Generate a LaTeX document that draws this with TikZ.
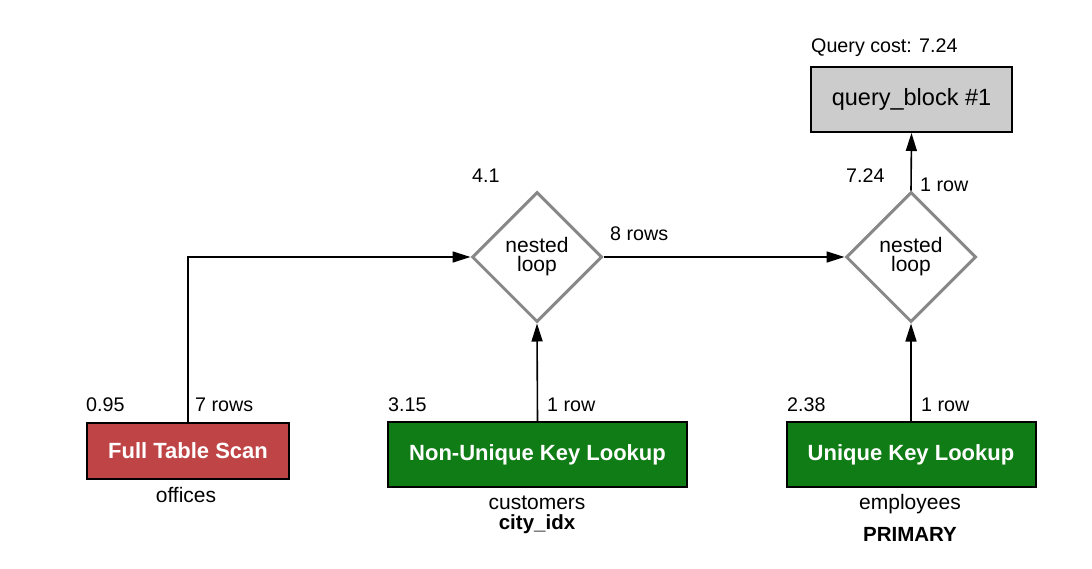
\documentclass[tikz,border=0pt]{standalone}
\usepackage{fontspec}
\setmainfont{Liberation Sans}
\usetikzlibrary{shapes.geometric,arrows.meta}
\definecolor{scanred}{HTML}{BF4446}
\definecolor{lookgreen}{HTML}{107C16}
\definecolor{qbgray}{HTML}{CCCCCC}
\definecolor{loopgray}{HTML}{888888}
\tikzset{
  opbox/.style={draw=black, line width=2pt, inner sep=0pt, text=white,
    font=\fontsize{22}{25}\selectfont\bfseries},
  qbox/.style={draw=black, line width=2pt, fill=qbgray, inner sep=0pt,
    minimum width=201pt, minimum height=65pt, font=\fontsize{23.5}{27}\selectfont},
  loopnode/.style={diamond, draw=loopgray, line width=3pt, fill=white, inner sep=0pt,
    minimum width=130pt, minimum height=130pt, align=center,
    font=\fontsize{21}{23}\selectfont},
  lbl/.style={inner sep=0pt, font=\fontsize{19.7}{23}\selectfont},
  sub/.style={inner sep=0pt, font=\fontsize{21}{24}\selectfont},
  keyname/.style={inner sep=0pt, font=\fontsize{20.5}{24}\selectfont\bfseries},
  flow/.style={line width=1.6pt, -{Triangle[length=18pt,width=11pt]}},
}
\begin{document}
\begin{tikzpicture}[x=1pt,y=-1pt]
\useasboundingbox (0,0) rectangle (1092,568);
% boxes
\node[opbox, fill=scanred, minimum width=202pt, minimum height=56pt] (fts) at (188,450.5) {Full Table Scan};
\node[opbox, fill=lookgreen, minimum width=299pt, minimum height=65pt] (nukl) at (537.5,454.5) {Non-Unique Key Lookup};
\node[opbox, fill=lookgreen, minimum width=249pt, minimum height=65pt] (ukl) at (911,454.5) {Unique Key Lookup};
\node[qbox] (qb) at (911.5,99.5) {query\_block \#1};
% loops
\node[loopnode] (nl1) at (537,257) {nested\\[-4pt]loop};
\node[loopnode] (nl2) at (911,257) {nested\\[-4pt]loop};
% connectors
\draw[flow] (fts.north) |- (nl1.west);
\draw[flow] (nukl.north) -- (nl1.south);
\draw[flow] (nl1.east) -- (nl2.west);
\draw[flow] (ukl.north) -- (nl2.south);
\draw[flow] (nl2.north) -- (qb.south);
% labels
\node[lbl, anchor=west] (c1) at (86,405) {0.95};
\node[lbl, anchor=west] (r1) at (195,405) {7 rows};
\node[lbl, anchor=west] (c2) at (388,405) {3.15};
\node[lbl, anchor=west] (r2) at (547,405) {1 row};
\node[lbl, anchor=west] (c3) at (787,405) {2.38};
\node[lbl, anchor=west] (r3) at (921,405) {1 row};
\node[lbl, anchor=west] (c4) at (472,176) {4.1};
\node[lbl, anchor=west] (r4) at (610,234) {8 rows};
\node[lbl, anchor=west] (c5) at (846,176) {7.24};
\node[lbl, anchor=west] (r5) at (920,185) {1 row};
\node[lbl, anchor=west] (qc) at (811,48) {Query cost: 7.24};
% table names
\node[sub, anchor=base] (t1) at (186,502) {offices};
\node[sub, anchor=base] (t2) at (537,509.5) {customers};
\node[keyname, anchor=base] (k2) at (537,529.5) {city\_idx};
\node[sub, anchor=base] (t3) at (910,509.5) {employees};
\node[keyname, anchor=base] (k3) at (910,541) {PRIMARY};
\end{tikzpicture}
\end{document}
